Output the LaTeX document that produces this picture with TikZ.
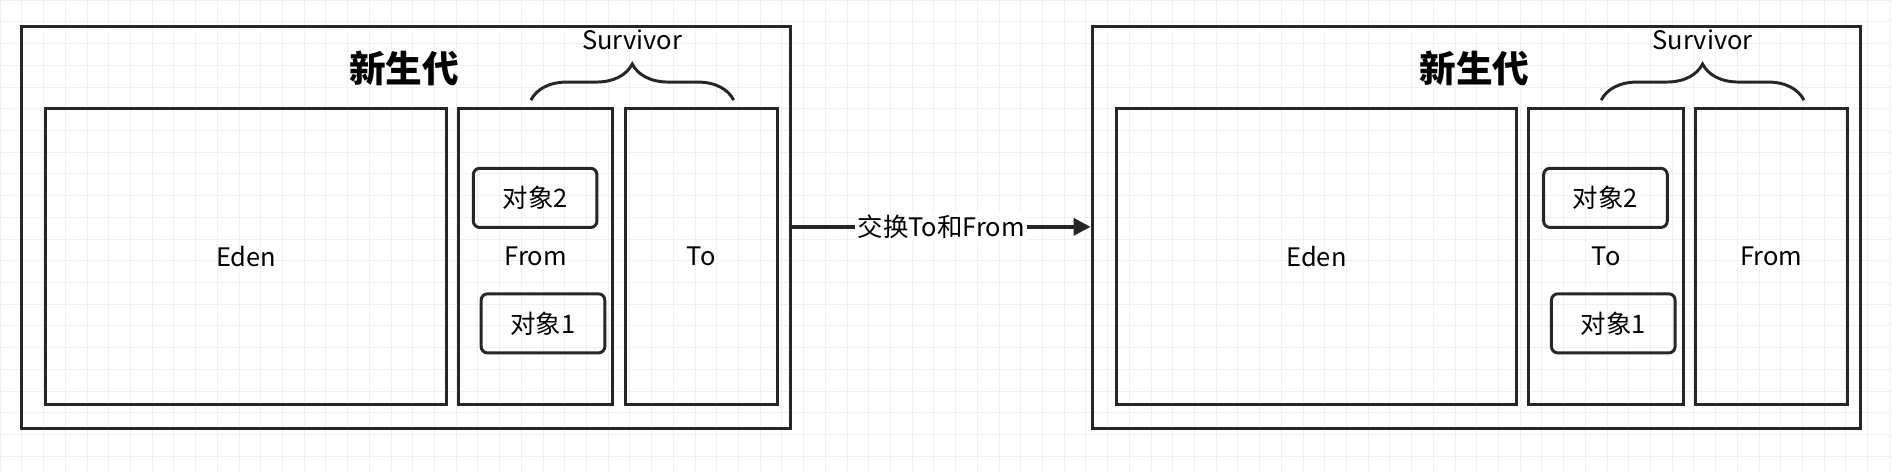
\documentclass[tikz,border=0pt]{standalone}
\usepackage{fontspec}
\setmainfont{Noto Sans CJK SC}
\usetikzlibrary{positioning,decorations.pathreplacing,arrows.meta}
\tikzset{
  region/.style={draw=black!85,line width=1.4pt,inner sep=0pt},
  objbox/.style={draw=black!85,line width=1.4pt,rounded corners=3pt,minimum width=2.05cm,minimum height=0.98cm,font=\large},
  lbl/.style={font=\large},
}
\begin{document}
\begin{tikzpicture}[x=0.02cm,y=-0.02cm]
	%
	% Fond quadrillé
	\useasboundingbox (0,0) rectangle (1568,391);
	\draw[step=0.36cm,line width=0.3pt,draw=black!6] (0,0) grid (1568,391);
	%
	% Deux états : avant et après l'échange
	\foreach \p/\dx/\midtxt/\sidetxt in {a/0/From/To, b/887/To/From}{
		\begin{scope}[xshift=\dx*0.02cm]
			\node[region,minimum width=12.74cm,minimum height=6.66cm] (\p outer) at (336.5,188.5) {};
			\node[region,minimum width=6.64cm,minimum height=4.9cm,lbl] (\p eden) at (204,212.5) {Eden};
			\node[region,minimum width=2.56cm,minimum height=4.9cm,lbl] (\p mid) at (444,212.5) {\midtxt};
			\node[region,minimum width=2.52cm,minimum height=4.9cm,lbl] (\p side) at (581,212.5) {\sidetxt};
			\node[objbox] (\p obj2) at (443.5,164) {对象2};
			\node[objbox] (\p obj1) at (450,268) {对象1};
			\node[font=\bfseries\LARGE] (\p title) at (335,57) {新生代};
			\coordinate (\p bl) at (440,83);
			\coordinate (\p br) at (608,83);
			\draw[line width=1.4pt,draw=black!85,decorate,decoration={brace,amplitude=0.6cm}]
				(\p bl) -- (\p br) node[midway,above=0.7cm,lbl] (\p surv) {Survivor};
		\end{scope}
	}
	%
	% Flèche d'échange
	\draw[-{Triangle[length=8pt,width=8pt]},line width=1.6pt,draw=black!85]
		(aouter.east |- 0,188) -- node[fill=white,lbl,inner sep=1pt] (swap) {交换To和From} (bouter.west |- 0,188);
\end{tikzpicture}
\end{document}
